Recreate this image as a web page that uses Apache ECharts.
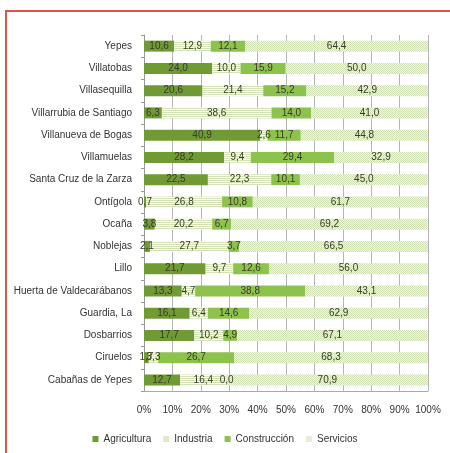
<!DOCTYPE html>
<html><head><meta charset="utf-8">
<script src="https://cdn.jsdelivr.net/npm/echarts@6/dist/echarts.min.js"></script>
<style>
html,body{margin:0;padding:0;background:#fff;overflow:hidden}
#frame{position:absolute;left:5px;top:10px;width:460px;height:460px;border:2px solid #d9534f;box-sizing:border-box}
#c{position:absolute;left:0;top:0;width:450px;height:453px}
</style></head>
<body>
<div id="frame"></div>
<div id="c"></div>
<script>
const categories = ['Yepes','Villatobas','Villasequilla','Villarrubia de Santiago','Villanueva de Bogas','Villamuelas','Santa Cruz de la Zarza','Ontígola','Ocaña','Noblejas','Lillo','Huerta de Valdecarábanos','Guardia, La','Dosbarrios','Ciruelos','Cabañas de Yepes'];
const agricultura  = [10.6,24.0,20.6,6.3,40.9,28.2,22.5,0.7,3.8,2.1,21.7,13.3,16.1,17.7,1.7,12.7];
const industria    = [12.9,10.0,21.4,38.6,2.6,9.4,22.3,26.8,20.2,27.7,9.7,4.7,6.4,10.2,3.3,16.4];
const construccion = [12.1,15.9,15.2,14.0,11.7,29.4,10.1,10.8,6.7,3.7,12.6,38.8,14.6,4.9,26.7,0.0];
const servicios    = [64.4,50.0,42.9,41.0,44.8,32.9,45.0,61.7,69.2,66.5,56.0,43.1,62.9,67.1,68.3,70.9];
const seriesNames  = ['Agricultura','Industria','Construcción','Servicios'];
const xTicks = [0,10,20,30,40,50,60,70,80,90,100];

function stripePattern(){
  const c=document.createElement('canvas');c.width=4;c.height=4;
  const g=c.getContext('2d');
  g.fillStyle='#fbfdf6';g.fillRect(0,0,4,4);
  g.fillStyle='#d3e3b6';g.fillRect(0,0,4,1);g.fillRect(0,2,4,1);
  return c;
}
function hatchPattern(){
  const c=document.createElement('canvas');c.width=4;c.height=4;
  const g=c.getContext('2d');
  g.fillStyle='#f1f6e6';g.fillRect(0,0,4,4);
  g.fillStyle='#cfe0b2';
  g.fillRect(0,0,1,1);g.fillRect(1,1,1,1);g.fillRect(2,2,1,1);g.fillRect(3,1,1,1);
  g.fillRect(2,0,1,1);g.fillRect(0,2,1,1);g.fillRect(1,3,1,1);g.fillRect(3,3,1,1);
  return c;
}
const fills = [
  '#6f9a34',
  {image: stripePattern(), repeat:'repeat'},
  '#8dc24c',
  {image: hatchPattern(), repeat:'repeat'}
];
const legendColors = ['#6f9a34','#dde9c8','#8dc24c','#e6efd6'];
const dataArr = [agricultura, industria, construccion, servicios];

const fmt = v => v.toFixed(1).replace('.', ',');
const font = '"Liberation Sans Narrow","Liberation Sans",sans-serif';

const chart = echarts.init(document.getElementById('c'));
chart.setOption({
  animation:false,
  grid:{left:144, right:22, top:35, bottom:62, containLabel:false},
  xAxis:{type:'value', min:0, max:100, interval:10,
    axisLabel:{formatter: v => v + '%', color:'#333', fontSize:10, fontFamily:font, margin:14},
    splitLine:{show:true, lineStyle:{color:'#b5b5b5', width:1}},
    axisLine:{show:true, lineStyle:{color:'#aaa'}},
    axisTick:{show:false}},
  yAxis:{type:'category', data:categories, inverse:true,
    axisLabel:{color:'#333', fontSize:10, fontFamily:font, margin:12},
    axisLine:{show:true, lineStyle:{color:'#999'}},
    axisTick:{show:true, length:3, lineStyle:{color:'#999'}}},
  legend:{bottom:4, left:'center', itemWidth:6, itemHeight:6, itemGap:12, icon:'rect',
    textStyle:{color:'#333', fontSize:10, fontFamily:font},
    data: seriesNames.map((n,i)=>({name:n, itemStyle:{color:legendColors[i]}}))},
  series: seriesNames.map((n,i)=>({
    name:n, type:'bar', stack:'total', barWidth:11,
    data: dataArr[i],
    itemStyle:{color: fills[i]},
    label:{show:true, position:'inside', formatter: p => fmt(p.value),
      color:'#3a3a2a', fontSize:10, fontFamily:font}
  }))
});
</script>
</body></html>
